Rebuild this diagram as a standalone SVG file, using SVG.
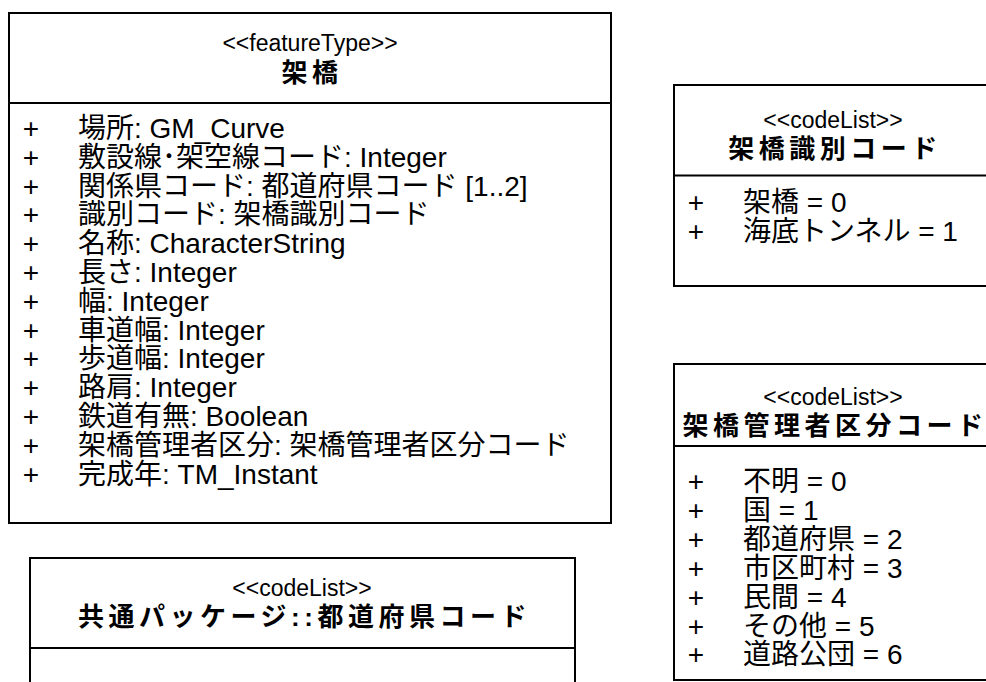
<svg xmlns="http://www.w3.org/2000/svg" width="986" height="682" viewBox="0 0 986 682">
<style>
  .box { fill: #ffffff; stroke: #000000; stroke-width: 2; }
  .div { stroke: #000000; stroke-width: 2; }
  text { font-family: "Liberation Sans", "Noto Sans CJK JP", sans-serif; fill: #000000; }
  .st { font-size: 23px; text-anchor: middle; }
  .nm { font-size: 26px; font-weight: bold; text-anchor: middle; letter-spacing: 4.5px; }
  .at { font-size: 28px; }
  .pl { font-size: 28px; text-anchor: middle; }
</style>
<rect width="986" height="682" fill="#ffffff"/>
<g id="kakyou">
  <rect class="box" x="9" y="13" width="602" height="510"/>
  <line class="div" x1="9" y1="103" x2="611" y2="103"/>
  <text class="st" x="310" y="51">&lt;&lt;featureType&gt;&gt;</text>
  <text class="nm" x="312" y="82">架橋</text>
  <g class="pl">
    <text x="31" y="138">+</text><text x="31" y="166.8">+</text><text x="31" y="195.6">+</text>
    <text x="31" y="224.4">+</text><text x="31" y="253.2">+</text><text x="31" y="282">+</text>
    <text x="31" y="310.8">+</text><text x="31" y="339.6">+</text><text x="31" y="368.4">+</text>
    <text x="31" y="397.2">+</text><text x="31" y="426">+</text><text x="31" y="454.8">+</text>
    <text x="31" y="483.6">+</text>
  </g>
  <g class="at">
    <text x="78" y="138">場所: GM_Curve</text>
    <text x="78" y="166.8">敷設線･架空線コード: Integer</text>
    <text x="78" y="195.6">関係県コード: 都道府県コード [1..2]</text>
    <text x="78" y="224.4">識別コード: 架橋識別コード</text>
    <text x="78" y="253.2">名称: CharacterString</text>
    <text x="78" y="282">長さ: Integer</text>
    <text x="78" y="310.8">幅: Integer</text>
    <text x="78" y="339.6">車道幅: Integer</text>
    <text x="78" y="368.4">歩道幅: Integer</text>
    <text x="78" y="397.2">路肩: Integer</text>
    <text x="78" y="426">鉄道有無: Boolean</text>
    <text x="78" y="454.8">架橋管理者区分: 架橋管理者区分コード</text>
    <text x="78" y="483.6">完成年: TM_Instant</text>
  </g>
</g>
<g id="todofukenCode">
  <rect class="box" x="30" y="558" width="545" height="140"/>
  <line class="div" x1="30" y1="648" x2="575" y2="648"/>
  <text class="st" x="302" y="596">&lt;&lt;codeList&gt;&gt;</text>
  <text class="nm" x="304.5" y="626">共通パッケージ::都道府県コード</text>
</g>
<g id="kakyouShikibetsuCode">
  <rect class="box" x="674" y="85" width="320" height="201"/>
  <line class="div" x1="674" y1="175.5" x2="994" y2="175.5"/>
  <text class="st" x="833" y="128">&lt;&lt;codeList&gt;&gt;</text>
  <text class="nm" x="835" y="158">架橋識別コード</text>
  <text class="pl" x="696" y="212.2">+</text>
  <text class="pl" x="696" y="241.2">+</text>
  <text class="at" x="743" y="212.2">架橋 = 0</text>
  <text class="at" x="743" y="241.2">海底トンネル = 1</text>
</g>
<g id="kakyouKanrishaKubunCode">
  <rect class="box" x="674" y="364" width="320" height="316"/>
  <line class="div" x1="674" y1="446" x2="994" y2="446"/>
  <text class="st" x="833" y="405">&lt;&lt;codeList&gt;&gt;</text>
  <text class="nm" x="835" y="435">架橋管理者区分コード</text>
  <g class="pl">
    <text x="696" y="491.2">+</text><text x="696" y="520.2">+</text><text x="696" y="549">+</text>
    <text x="696" y="577.8">+</text><text x="696" y="606.8">+</text><text x="696" y="635.5">+</text>
    <text x="696" y="664">+</text>
  </g>
  <g class="at">
    <text x="743" y="491.2">不明 = 0</text>
    <text x="743" y="520.2">国 = 1</text>
    <text x="743" y="549">都道府県 = 2</text>
    <text x="743" y="577.8">市区町村 = 3</text>
    <text x="743" y="606.8">民間 = 4</text>
    <text x="743" y="635.5">その他 = 5</text>
    <text x="743" y="664">道路公団 = 6</text>
  </g>
</g>
<g id="connectors"></g>
</svg>
